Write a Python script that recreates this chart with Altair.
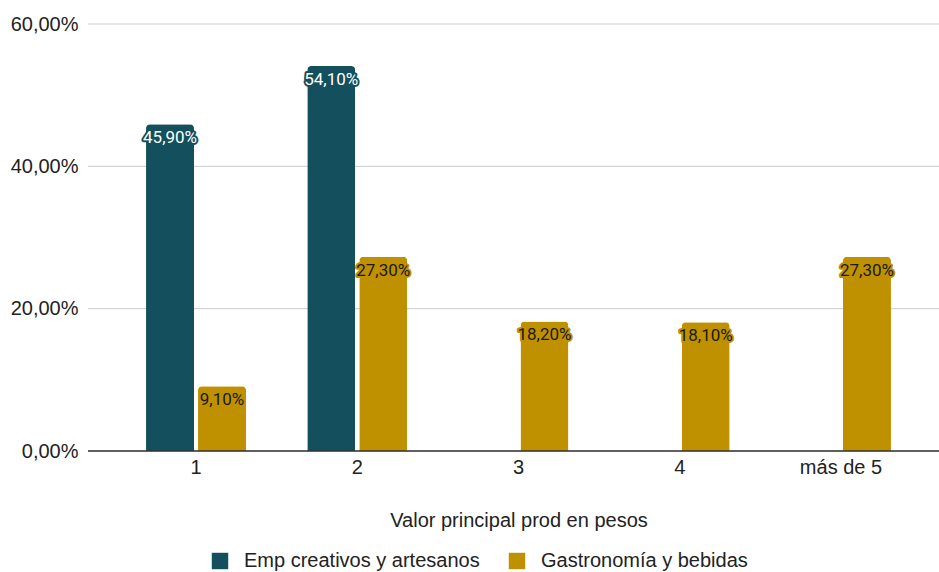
import altair as alt
import pandas as pd

categories = ["1", "2", "3", "4", "más de 5"]
series_names = ["Emp creativos y artesanos", "Gastronomía y bebidas"]
emp_values = [45.90, 54.10, None, None, None]
gastro_values = [9.10, 27.30, 18.20, 18.10, 27.30]
colors = ["#134f5c", "#bf9000"]
label_colors = ["#ffffff", "#1a1a1a"]
y_ticks = [0, 20, 40, 60]

rows = []
for name, vals in zip(series_names, [emp_values, gastro_values]):
    for c, v in zip(categories, vals):
        if v is not None:
            rows.append({"cat": c, "serie": name, "value": v / 100.0,
                         "label": f"{v:.2f}%".replace(".", ",")})
df = pd.DataFrame(rows)
grid_df = pd.DataFrame({"tick": [t / 100 for t in y_ticks]})

FONT = "Liberation Sans"
W, H = 851, 427

y_scale = alt.Scale(domain=[0, 0.6], nice=False)
x_scale = alt.Scale(domain=categories, range=[27.4, 833.6], paddingInner=0, paddingOuter=0)
xoff_scale = alt.Scale(domain=series_names, paddingInner=0.077, paddingOuter=0.589)

y_axis = alt.Axis(title=None, values=[t / 100 for t in y_ticks], ticks=False, domain=False,
                  grid=False,
                  labelExpr="replace(format(datum.value, '.2%'), '.', ',')",
                  labelFont=FONT, labelFontSize=20, labelColor="#222222", labelPadding=10)

grid = alt.Chart(grid_df).mark_rule(color="#cccccc", strokeWidth=1).encode(
    y=alt.Y("tick:Q", scale=y_scale, axis=y_axis),
    x=alt.value(0), x2=alt.value(W))

x_enc = alt.X("cat:N", sort=categories, scale=x_scale,
              axis=alt.Axis(title="Valor principal prod en pesos", labelAngle=0, ticks=False,
                            domain=False,
                            labelFont=FONT, labelFontSize=20, labelColor="#222222", labelPadding=6,
                            titleFont=FONT, titleFontSize=20, titleFontWeight="normal",
                            titleColor="#222222", titlePadding=33))
y_enc = alt.Y("value:Q", scale=y_scale, axis=y_axis)
xoff = alt.XOffset("serie:N", sort=series_names, scale=xoff_scale)
color_enc = alt.Color("serie:N", sort=series_names,
                      scale=alt.Scale(domain=series_names, range=colors),
                      legend=alt.Legend(title=None, orient="none", direction="horizontal",
                                        legendX=122, legendY=527, symbolType="square",
                                        symbolSize=270, symbolStrokeWidth=0, symbolOpacity=1,
                                        labelFont=FONT, labelFontSize=20, labelColor="#222222",
                                        labelLimit=0, columnPadding=27, labelOffset=14))

base = alt.Chart(df)

bars = base.mark_bar(cornerRadiusTopLeft=4, cornerRadiusTopRight=4).encode(
    x=x_enc, y=y_enc, xOffset=xoff, color=color_enc)

baseline = alt.Chart(grid_df).transform_filter("datum.tick == 0").mark_rule(
    color="#333333", strokeWidth=1.3).encode(
    y=alt.Y("tick:Q", scale=y_scale, axis=y_axis), x=alt.value(0), x2=alt.value(W))

halo = base.mark_text(baseline="middle", align="center", dy=14, font="Roboto", fontSize=17,
                      strokeWidth=4, strokeJoin="round").encode(
    x=alt.X("cat:N", sort=categories), y=y_enc, xOffset=alt.XOffset("serie:N", sort=series_names),
    text="label:N",
    stroke=alt.Stroke("serie:N", scale=alt.Scale(domain=series_names, range=colors), legend=None),
    fill=alt.Fill("serie:N", scale=alt.Scale(domain=series_names, range=colors), legend=None))

text = base.mark_text(baseline="middle", align="center", dy=14, font="Roboto", fontSize=17).encode(
    x=alt.X("cat:N", sort=categories), y=y_enc, xOffset=alt.XOffset("serie:N", sort=series_names),
    text="label:N",
    fill=alt.Fill("serie:N", scale=alt.Scale(domain=series_names, range=label_colors), legend=None))

chart = alt.layer(grid, bars, baseline, halo, text).resolve_scale(fill="independent").properties(
    width=W, height=H,
    autosize=alt.AutoSizeParams(type="none"),
    padding={"left": 88, "top": 24, "right": 0, "bottom": 121},
    background="white",
).configure_view(stroke=None)

chart.save("out.html", embed_options={"renderer": "svg", "actions": False})
